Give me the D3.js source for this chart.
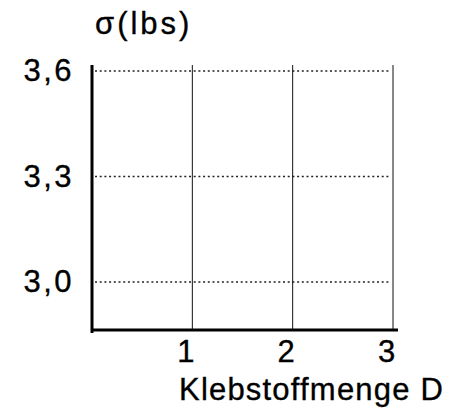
<!DOCTYPE html>
<html>
<head>
<meta charset="utf-8">
<script src="https://cdn.jsdelivr.net/npm/d3@7"></script>
<style>
  html, body { margin: 0; padding: 0; background: #fff; }
  svg { display: block; font-family: "Liberation Sans", Arial, Helvetica, sans-serif; }
  svg text { stroke: #000; stroke-width: 0.35px; fill: #000; }
</style>
</head>
<body>
<svg id="chart" width="452" height="410"></svg>
<script>
// Adhesive amount D on the x axis, standard deviation σ (lbs) on the y axis
const xTicks = [1, 2, 3];
const xTickLabels = ["1", "2", "3"];
const yTicks = [3.0, 3.3, 3.6];
const yTickLabels = ["3,0", "3,3", "3,6"];
const xDomain = [0, 3];
const yDomain = [2.855, 3.617];
const yTitle = "σ(lbs)";
const xTitle = "Klebstoffmenge D";

const svg = d3.select("#chart");
const plotLeft = 92, plotRight = 393, plotTop = 65, plotBottom = 333, xAxisY = 330;

const x = d3.scaleLinear().domain(xDomain).range([plotLeft, plotRight]);
const y = d3.scaleLinear().domain(yDomain).range([plotBottom, plotTop]);

// dotted horizontal grid at each y tick
svg.append("g")
  .selectAll("line")
  .data(yTicks)
  .join("line")
  .attr("x1", plotLeft + 3)
  .attr("x2", x(xTicks[xTicks.length - 1]) - 2)
  .attr("y1", d => y(d))
  .attr("y2", d => y(d))
  .attr("stroke", "#222")
  .attr("stroke-width", 1.3)
  .attr("stroke-dasharray", "2 2.7");

// solid vertical grid at each x tick
svg.append("g")
  .selectAll("line")
  .data(xTicks)
  .join("line")
  .attr("x1", d => x(d))
  .attr("x2", d => x(d))
  .attr("y1", plotTop)
  .attr("y2", xAxisY)
  .attr("stroke", "#111")
  .attr("stroke-width", 1);

// y axis (no tick marks, labels only)
const yAxis = d3.axisLeft(y)
  .tickValues(yTicks)
  .tickFormat((d, i) => yTickLabels[i])
  .tickSize(0)
  .tickPadding(0);
const gy = svg.append("g").attr("transform", `translate(74,0)`).call(yAxis);
gy.select(".domain").remove();
gy.selectAll("text")
  .attr("font-size", 31)
  .attr("letter-spacing", 2.5)
  .attr("font-family", "Liberation Sans, Arial, sans-serif");

// x axis labels
const xAxis = d3.axisBottom(x)
  .tickValues(xTicks)
  .tickFormat((d, i) => xTickLabels[i])
  .tickSize(0)
  .tickPadding(0);
const gx = svg.append("g").attr("transform", `translate(-7,340)`).call(xAxis);
gx.select(".domain").remove();
gx.selectAll("text")
  .attr("font-size", 31)
  .attr("dy", "0.71em")
  .attr("font-family", "Liberation Sans, Arial, sans-serif");

// heavy axis lines
svg.append("line")
  .attr("x1", plotLeft).attr("x2", plotLeft)
  .attr("y1", plotTop).attr("y2", plotBottom)
  .attr("stroke", "#000").attr("stroke-width", 3);
svg.append("line")
  .attr("x1", plotLeft).attr("x2", plotRight + 5)
  .attr("y1", xAxisY).attr("y2", xAxisY)
  .attr("stroke", "#000").attr("stroke-width", 3);

// axis titles
svg.append("text")
  .attr("x", 95).attr("y", 34)
  .attr("font-size", 31)
  .attr("letter-spacing", 3)
  .text(yTitle);
svg.append("text")
  .attr("x", 179).attr("y", 400)
  .attr("font-size", 31)
  .attr("letter-spacing", 1.2)
  .text(xTitle);
</script>
</body>
</html>
